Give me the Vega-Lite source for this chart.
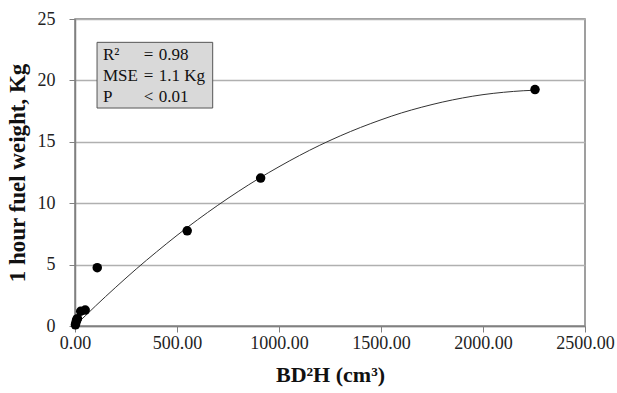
{
  "$schema": "https://vega.github.io/schema/vega-lite/v6.json",
  "width": 510,
  "height": 307,
  "autosize": {"type": "none"},
  "padding": {"left": 75, "top": 19, "right": 32, "bottom": 67},
  "background": "white",
  "config": {
    "view": {"stroke": "#808080", "strokeWidth": 1.5},
    "font": "Liberation Serif",
    "axis": {"labelFont": "Liberation Serif", "titleFont": "Liberation Serif", "labelColor": "#222", "titleColor": "#111", "domainColor": "#808080", "tickColor": "#808080", "gridColor": "#b0b0b0", "gridWidth": 1.5, "domainWidth": 1.5, "labelFlush": false}
  },
  "datasets": {
    "obs": [
      {"bd2h": 2, "fuel": 0.1},
      {"bd2h": 5, "fuel": 0.3},
      {"bd2h": 8, "fuel": 0.5},
      {"bd2h": 12, "fuel": 0.6},
      {"bd2h": 28, "fuel": 1.2},
      {"bd2h": 50, "fuel": 1.3},
      {"bd2h": 109, "fuel": 4.75},
      {"bd2h": 550, "fuel": 7.75},
      {"bd2h": 910, "fuel": 12.05},
      {"bd2h": 2255, "fuel": 19.25}
    ],
    "fit": [
      {"bd2h": 10, "fuel": 0.2},
      {"bd2h": 50, "fuel": 0.82},
      {"bd2h": 100, "fuel": 1.62},
      {"bd2h": 200, "fuel": 3.16},
      {"bd2h": 300, "fuel": 4.64},
      {"bd2h": 400, "fuel": 6.04},
      {"bd2h": 500, "fuel": 7.38},
      {"bd2h": 600, "fuel": 8.64},
      {"bd2h": 700, "fuel": 9.83},
      {"bd2h": 800, "fuel": 10.95},
      {"bd2h": 900, "fuel": 12.0},
      {"bd2h": 1000, "fuel": 12.97},
      {"bd2h": 1100, "fuel": 13.88},
      {"bd2h": 1200, "fuel": 14.72},
      {"bd2h": 1300, "fuel": 15.48},
      {"bd2h": 1400, "fuel": 16.17},
      {"bd2h": 1500, "fuel": 16.79},
      {"bd2h": 1600, "fuel": 17.35},
      {"bd2h": 1700, "fuel": 17.82},
      {"bd2h": 1800, "fuel": 18.23},
      {"bd2h": 1900, "fuel": 18.57},
      {"bd2h": 2000, "fuel": 18.84},
      {"bd2h": 2100, "fuel": 19.03},
      {"bd2h": 2200, "fuel": 19.16},
      {"bd2h": 2255, "fuel": 19.2}
    ],
    "box": [{"x1": 108, "x2": 675, "y1": 17.75, "y2": 23.1}],
    "stats": [
      {"label": "R²", "op": "=", "value": "0.98", "fuel": 21.66},
      {"label": "MSE", "op": "=", "value": "1.1 Kg", "fuel": 19.95},
      {"label": "P", "op": "<", "value": "0.01", "fuel": 18.24}
    ]
  },
  "layer": [
    {
      "data": {"name": "fit"},
      "mark": {"type": "line", "color": "#333", "strokeWidth": 1, "interpolate": "monotone"},
      "encoding": {
        "x": {"field": "bd2h", "type": "quantitative", "scale": {"domain": [0, 2500], "nice": false, "zero": false},
          "axis": {"title": "BD²H (cm³)", "values": [0, 500, 1000, 1500, 2000, 2500], "format": ".2f", "grid": false, "labelFontSize": 18, "titleFontSize": 22, "titleFontWeight": "bold", "tickSize": 6, "labelPadding": 2, "titlePadding": 12}},
        "y": {"field": "fuel", "type": "quantitative", "scale": {"domain": [0, 25], "nice": false, "zero": false},
          "axis": {"title": "1 hour fuel weight, Kg", "values": [0, 5, 10, 15, 20, 25], "labelFontSize": 18, "titleFontSize": 23, "titleFontWeight": "bold", "tickSize": 6, "labelPadding": 14, "titlePadding": 8}}
      }
    },
    {
      "data": {"name": "obs"},
      "mark": {"type": "point", "filled": true, "color": "black", "opacity": 1, "size": 90},
      "encoding": {
        "x": {"field": "bd2h", "type": "quantitative", "scale": {"domain": [0, 2500], "nice": false, "zero": false}},
        "y": {"field": "fuel", "type": "quantitative", "scale": {"domain": [0, 25], "nice": false, "zero": false}}
      }
    },
    {
      "data": {"name": "box"},
      "mark": {"type": "rect", "fill": "#d9d9d9", "stroke": "#555", "strokeWidth": 1},
      "encoding": {
        "x": {"field": "x1", "type": "quantitative", "scale": {"domain": [0, 2500], "nice": false, "zero": false}},
        "x2": {"field": "x2"},
        "y": {"field": "y1", "type": "quantitative", "scale": {"domain": [0, 25], "nice": false, "zero": false}},
        "y2": {"field": "y2"}
      }
    },
    {
      "data": {"name": "stats"},
      "mark": {"type": "text", "align": "left", "baseline": "alphabetic", "font": "Liberation Serif", "fontSize": 17, "color": "#111"},
      "encoding": {
        "x": {"datum": 137, "type": "quantitative", "scale": {"domain": [0, 2500], "nice": false, "zero": false}},
        "y": {"field": "fuel", "type": "quantitative", "scale": {"domain": [0, 25], "nice": false, "zero": false}},
        "text": {"field": "label"}
      }
    },
    {
      "data": {"name": "stats"},
      "mark": {"type": "text", "align": "center", "baseline": "alphabetic", "font": "Liberation Serif", "fontSize": 17, "color": "#111"},
      "encoding": {
        "x": {"datum": 360, "type": "quantitative", "scale": {"domain": [0, 2500], "nice": false, "zero": false}},
        "y": {"field": "fuel", "type": "quantitative", "scale": {"domain": [0, 25], "nice": false, "zero": false}},
        "text": {"field": "op"}
      }
    },
    {
      "data": {"name": "stats"},
      "mark": {"type": "text", "align": "left", "baseline": "alphabetic", "font": "Liberation Serif", "fontSize": 17, "color": "#111"},
      "encoding": {
        "x": {"datum": 410, "type": "quantitative", "scale": {"domain": [0, 2500], "nice": false, "zero": false}},
        "y": {"field": "fuel", "type": "quantitative", "scale": {"domain": [0, 25], "nice": false, "zero": false}},
        "text": {"field": "value"}
      }
    }
  ]
}
